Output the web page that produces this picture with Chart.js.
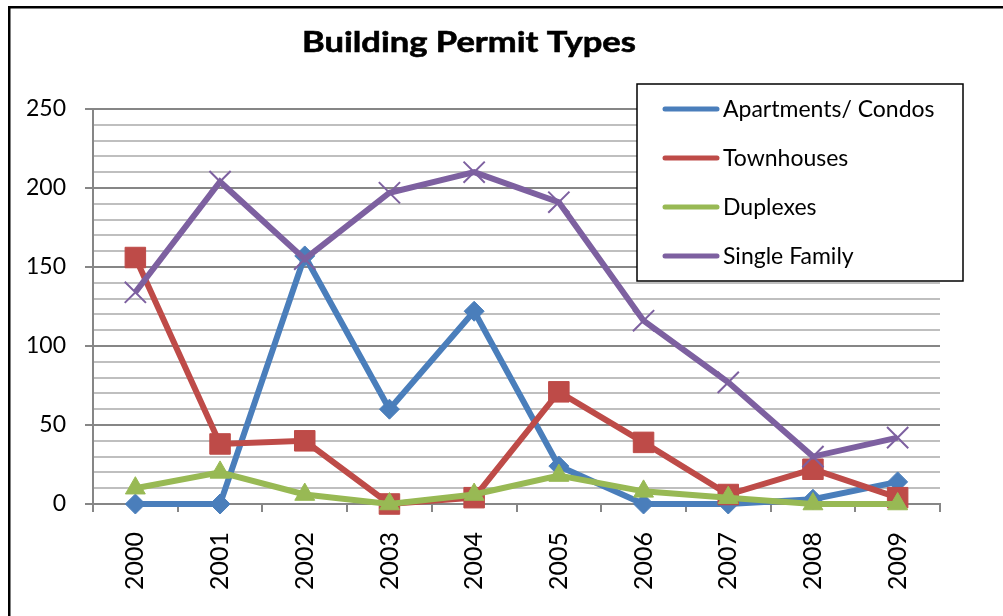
<!DOCTYPE html>
<html>
<head>
<meta charset="utf-8">
<title>Building Permit Types</title>
<script src="https://cdn.jsdelivr.net/npm/chart.js@4.4.0/dist/chart.umd.min.js"></script>
<style>
  html, body { margin: 0; padding: 0; background: #fff; }
  #wrap { position: relative; width: 1003px; height: 616px; }
</style>
</head>
<body>
<div id="wrap"><canvas id="permits" width="1003" height="616"></canvas></div>
<script>
// =========================================================
// Colores (estilo Excel 2007)
// =========================================================
const azul = '#4a7ebb';
const rojo = '#be4b48';
const verde = '#98b954';
const morado = '#7d60a0';
const gridMayor = '#868686';
const gridMenor = '#bfbfbf';

// =========================================================
// DATOS
// =========================================================
const years = ['2000', '2001', '2002', '2003', '2004', '2005', '2006', '2007', '2008', '2009'];
const apartments = [0, 0, 157, 60, 122, 24, 0, 0, 3, 14];
const townhouses = [156, 38, 40, 0, 4, 71, 39, 6, 22, 4];
const duplexes = [10, 20, 6, 0, 6, 18, 8, 4, 0, 0];
const singleFamily = [134, 204, 155, 197, 210, 191, 116, 77, 30, 42];
const seriesNames = ['Apartments/ Condos', 'Townhouses', 'Duplexes', 'Single Family'];

const fuente = 'Lato, Carlito, Calibri, "Open Sans", sans-serif';

function serie(label, data, color, style, radius, order) {
  return {
    label: label,
    data: data,
    borderColor: color,
    backgroundColor: color,
    borderWidth: 6,
    pointStyle: style,
    pointRadius: radius,
    pointBackgroundColor: color,
    pointBorderColor: color,
    pointBorderWidth: style === 'crossRot' ? 2 : 1,
    tension: 0,
    clip: false, // los marcadores en 0 se ven enteros, como en Excel
    order: order
  };
}

// marco exterior + titulo
const marcoPlugin = {
  id: 'marco',
  beforeDraw(chart) {
    const ctx = chart.ctx;
    ctx.save();
    ctx.fillStyle = '#000';
    ctx.fillRect(8, 6, 2.5, 616);
    ctx.fillRect(8, 6, 1003, 2.5);
    // el original esta estirado en horizontal: escalamos el titulo al ancho medido
    const texto = 'Building Permit Types';
    ctx.font = 'bold 29px ' + fuente;
    const ancho = ctx.measureText(texto).width;
    ctx.translate(469, 52);
    ctx.scale(334 / ancho, 1);
    ctx.textAlign = 'center';
    ctx.textBaseline = 'alphabetic';
    ctx.fillText(texto, 0, 0);
    ctx.lineWidth = 0.6;
    ctx.strokeStyle = '#000';
    ctx.strokeText(texto, 0, 0);
    ctx.restore();
  }
};

// leyenda dibujada encima del area del grafico
const leyendaPlugin = {
  id: 'leyenda',
  afterDraw(chart) {
    const ctx = chart.ctx;
    const box = { left: 637, top: 84, right: 963, bottom: 281 };
    ctx.save();
    ctx.fillStyle = '#fff';
    ctx.fillRect(box.left, box.top, box.right - box.left, box.bottom - box.top);
    ctx.strokeStyle = '#000';
    ctx.lineWidth = 1.5;
    ctx.strokeRect(box.left, box.top, box.right - box.left, box.bottom - box.top);

    const rows = [109, 158, 207, 256];
    chart.data.datasets.forEach((ds, i) => {
      const y = rows[i];
      ctx.strokeStyle = ds.borderColor;
      ctx.lineWidth = 5;
      ctx.lineCap = 'round';
      ctx.beginPath();
      ctx.moveTo(665, y);
      ctx.lineTo(717, y);
      ctx.stroke();
      ctx.fillStyle = ds.pointBackgroundColor;
      ctx.strokeStyle = ds.pointBorderColor;
      ctx.lineWidth = ds.pointBorderWidth;
      Chart.helpers.drawPoint(ctx, { pointStyle: ds.pointStyle, rotation: 0, borderWidth: ds.pointBorderWidth }, 691, y, ds.pointRadius * 0.72);
      ctx.fillStyle = '#000';
      ctx.font = '23px ' + fuente;
      ctx.textAlign = 'left';
      ctx.textBaseline = 'middle';
      ctx.fillText(ds.label, 723, y + 1);
    });
    ctx.restore();
  }
};

new Chart(document.getElementById('permits'), {
  type: 'line',
  data: {
    labels: years,
    datasets: [
      serie(seriesNames[0], apartments, azul, 'rectRot', 10, 4),
      serie(seriesNames[1], townhouses, rojo, 'rect', 14.5, 3),
      serie(seriesNames[2], duplexes, verde, 'triangle', 11.5, 2),
      serie(seriesNames[3], singleFamily, morado, 'crossRot', 15, 1)
    ]
  },
  options: {
    responsive: false,
    animation: false,
    events: [],
    layout: { padding: { left: 0, top: 109, right: 63, bottom: 0 } },
    plugins: {
      legend: { display: false },
      title: { display: false },
      tooltip: { enabled: false }
    },
    scales: {
      x: {
        offset: true,
        afterFit: s => { s.height = 112; },
        border: { color: gridMayor, width: 2 },
        grid: {
          offset: true,
          drawOnChartArea: false,
          drawTicks: true,
          tickLength: 8,
          color: gridMayor,
          lineWidth: 2
        },
        ticks: {
          minRotation: 90,
          maxRotation: 90,
          padding: 20,
          color: '#000',
          font: { family: fuente, size: 25 }
        }
      },
      y: {
        min: 0,
        max: 250,
        afterFit: s => { s.width = 93; },
        border: { color: gridMayor, width: 2 },
        grid: {
          color: ctx => (ctx.tick && ctx.tick.value % 50 === 0) ? gridMayor : gridMenor,
          tickColor: ctx => (ctx.tick && ctx.tick.value % 50 === 0) ? gridMayor : 'rgba(0,0,0,0)',
          lineWidth: 2,
          tickLength: 8
        },
        ticks: {
          stepSize: 10,
          autoSkip: false,
          padding: 19,
          color: '#000',
          font: { family: fuente, size: 23 },
          callback: v => (v % 50 === 0 ? v : '')
        }
      }
    }
  },
  plugins: [marcoPlugin, leyendaPlugin]
});
</script>
</body>
</html>
